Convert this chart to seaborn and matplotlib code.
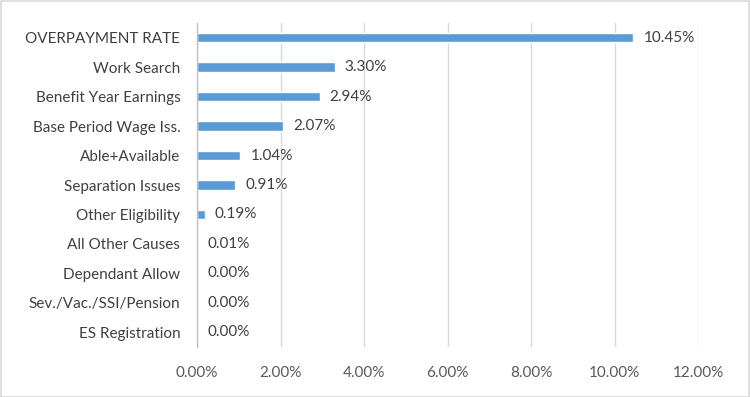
import pandas as pd
import matplotlib
matplotlib.use('Agg')
import matplotlib.pyplot as plt
import seaborn as sns
from matplotlib.patches import Rectangle

causes = ['OVERPAYMENT RATE', 'Work Search', 'Benefit Year Earnings', 'Base Period Wage Iss.',
          'Able+Available', 'Separation Issues', 'Other Eligibility', 'All Other Causes',
          'Dependant Allow', 'Sev./Vac./SSI/Pension', 'ES Registration']
rates = [10.45, 3.30, 2.94, 2.07, 1.04, 0.91, 0.19, 0.01, 0.00, 0.00, 0.00]
x_ticks = [0, 2, 4, 6, 8, 10, 12]

sns.set_style('white')
plt.rcParams['font.family'] = ['Lato', 'DejaVu Sans']

df = pd.DataFrame({'Cause': causes, 'Rate': rates})

fig = plt.figure(figsize=(7.5, 3.97), dpi=100)
ax = fig.add_axes([0.2627, 0.126, 0.668, 0.816])

sns.barplot(data=df, y='Cause', x='Rate', orient='h', color='#5B9BD5',
            width=0.32, saturation=1, ax=ax)

ax.set_xlim(0, 12)
ax.set_xticks(x_ticks)
ax.set_xticklabels([f'{t:.2f}%' for t in x_ticks], color='#595959', fontsize=11)
ax.tick_params(axis='y', labelsize=11, labelcolor='#404040', length=0, pad=12)
ax.tick_params(axis='x', length=0, pad=14)
ax.set_xlabel('')
ax.set_ylabel('')
ax.grid(axis='x', color='#D9D9D9', linewidth=1)
ax.set_axisbelow(True)
for side in ['top', 'right', 'bottom']:
    ax.spines[side].set_visible(False)
ax.spines['left'].set_color('#BFBFBF')
ax.spines['left'].set_linewidth(1)

for i, v in enumerate(rates):
    ax.text(v + 0.24, i, f'{v:.2f}%', va='center', ha='left', fontsize=11, color='#404040')

fig.patches.append(Rectangle((0.001, 0.001), 0.997, 0.997, transform=fig.transFigure,
                             fill=False, edgecolor='#D9D9D9', linewidth=1.2))

fig.savefig('out.png', dpi=100)
